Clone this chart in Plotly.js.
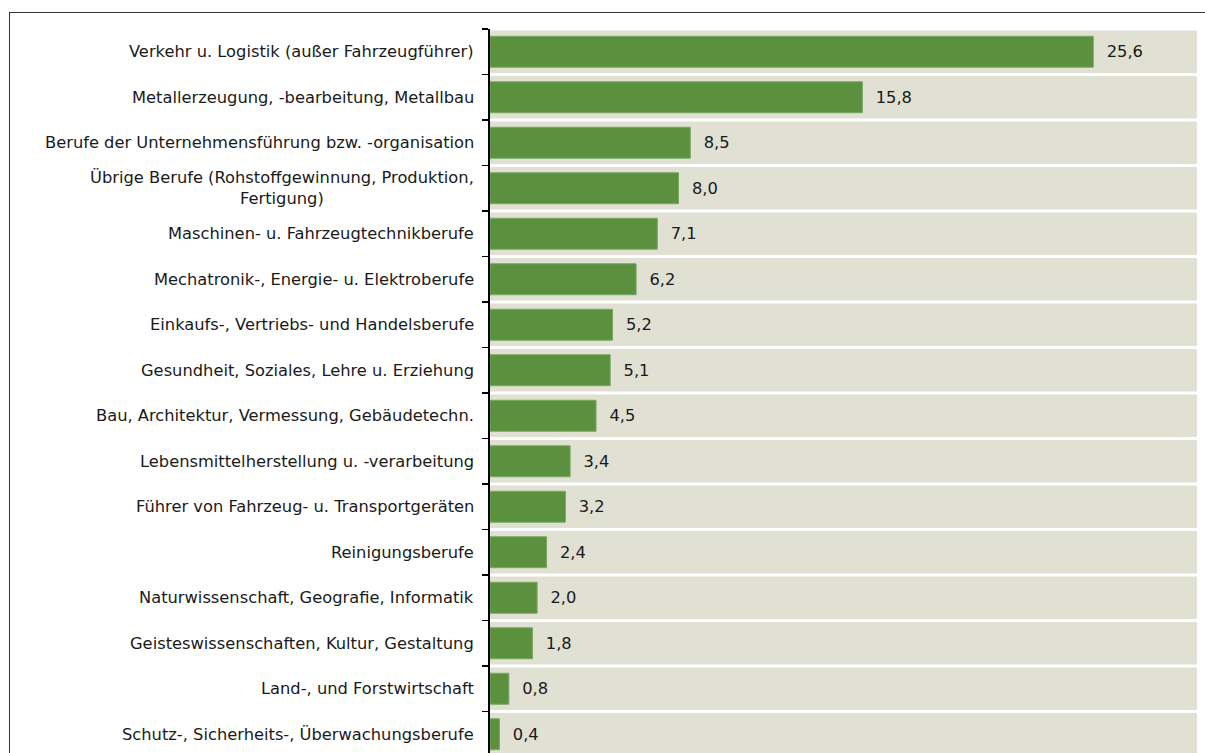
<!DOCTYPE html>
<html><head><meta charset="utf-8">
<script src="https://cdn.plot.ly/plotly-3.0.1.min.js"></script>
<style>
html,body{margin:0;padding:0;overflow:hidden;background:#fff;width:1205px;height:753px;}
#frame{position:absolute;left:9px;top:12px;width:1300px;height:900px;border-left:1.5px solid #333;border-top:1.5px solid #333;pointer-events:none;z-index:5;}
#chart{position:absolute;left:0;top:0;}
</style></head>
<body>
<div id="chart"></div>
<div id="frame"></div>
<script>
const categories = [
  "Verkehr u. Logistik (außer Fahrzeugführer)",
  "Metallerzeugung, -bearbeitung, Metallbau",
  "Berufe der Unternehmensführung bzw. -organisation",
  "Übrige Berufe (Rohstoffgewinnung, Produktion,<br>Fertigung)",
  "Maschinen- u. Fahrzeugtechnikberufe",
  "Mechatronik-, Energie- u. Elektroberufe",
  "Einkaufs-, Vertriebs- und Handelsberufe",
  "Gesundheit, Soziales, Lehre u. Erziehung",
  "Bau, Architektur, Vermessung, Gebäudetechn.",
  "Lebensmittelherstellung u. -verarbeitung",
  "Führer von Fahrzeug- u. Transportgeräten",
  "Reinigungsberufe",
  "Naturwissenschaft, Geografie, Informatik",
  "Geisteswissenschaften, Kultur, Gestaltung",
  "Land-, und Forstwirtschaft",
  "Schutz-, Sicherheits-, Überwachungsberufe"
];
const values = [25.6, 15.8, 8.5, 8.0, 7.1, 6.2, 5.2, 5.1, 4.5, 3.4, 3.2, 2.4, 2.0, 1.8, 0.8, 0.4];

const FONT = "'DejaVu Sans', sans-serif";

const shapes = categories.map((c, i) => ({
  type: 'rect', xref: 'paper', yref: 'y', x0: 0, x1: 1, y0: i - 0.467, y1: i + 0.467,
  fillcolor: '#E0E1D3', line: {width: 0}, layer: 'below'
}));

const annotations = categories.map((c, i) => ({
  xref: 'paper', yref: 'y', x: 0, y: c, xanchor: 'right', yanchor: 'middle',
  xshift: -14, text: c, showarrow: false, align: 'center',
  font: {family: FONT, size: 16.3, color: '#1a1a1a'}
}));

const trace = {
  type: 'bar', orientation: 'h', y: categories, x: values,
  marker: {color: '#5B903E', line: {color: '#78A860', width: 1}},
  texttemplate: '\u00a0\u00a0%{x:.1f}', textposition: 'outside', cliponaxis: false,
  textfont: {family: FONT, size: 16.3, color: '#1a1a1a'},
  hoverinfo: 'none'
};

const layout = {
  width: 1205, height: 760,
  margin: {l: 490, r: 8, t: 29, b: 3},
  paper_bgcolor: '#fff', plot_bgcolor: 'rgba(0,0,0,0)',
  separators: ',.',
  bargap: 0.32,
  showlegend: false,
  xaxis: {range: [0, 30], visible: false, fixedrange: true},
  yaxis: {
    type: 'category', categoryorder: 'array', categoryarray: categories,
    range: [15.5, -0.5], showticklabels: false,
    ticks: 'outside', tickson: 'boundaries', ticklen: 6, tickwidth: 1.5, tickcolor: '#000',
    showline: true, linecolor: '#000', linewidth: 2, showgrid: false, zeroline: false
  },
  shapes: shapes,
  annotations: annotations
};

Plotly.newPlot('chart', [trace], layout, {displayModeBar: false, staticPlot: true});
</script>
</body></html>
